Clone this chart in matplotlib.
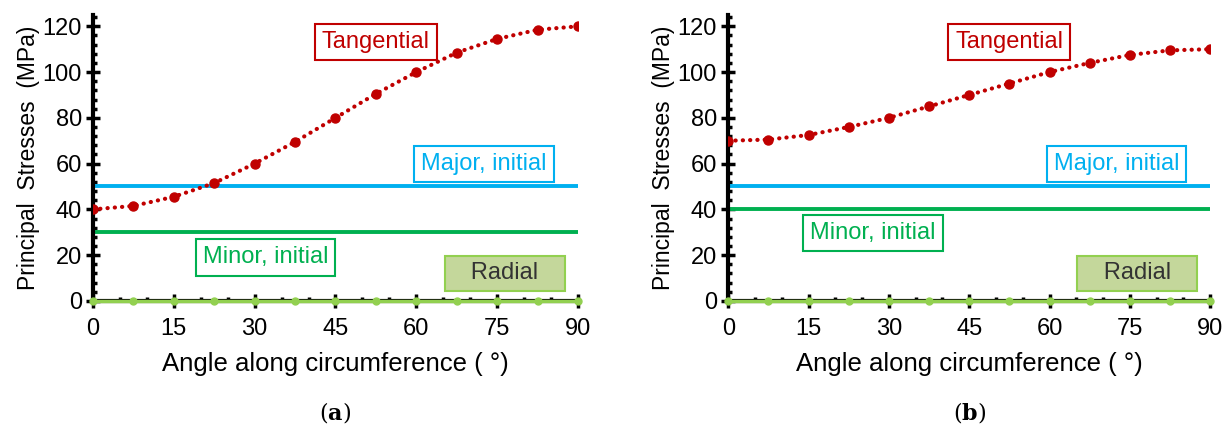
import matplotlib.pyplot as plt
from matplotlib.ticker import MultipleLocator

plt.rcParams["font.family"] = ["Liberation Sans", "DejaVu Sans"]

angles = [0, 7.5, 15, 22.5, 30, 37.5, 45, 52.5, 60, 67.5, 75, 82.5, 90]
tangential_a = [40, 41.5, 45.5, 51.5, 60, 69.5, 80, 90.5, 100, 108.5, 114.5, 118.5, 120]
tangential_b = [70, 70.5, 72.5, 76, 80, 85, 90, 95, 100, 104, 107.5, 109.5, 110]
radial = [0] * len(angles)
major_initial = {"a": 50, "b": 50}
minor_initial = {"a": 30, "b": 40}

RED = "#C00000"
BLUE = "#00B0F0"
GREEN = "#00B050"
LIGHT_GREEN = "#92D050"
RADIAL_FILL = "#C4D79B"


def draw_panel(ax, tangential, major, minor, minor_pos, label):
    ax.axhline(major, color=BLUE, lw=2.8, zorder=2)
    ax.axhline(minor, color=GREEN, lw=2.8, zorder=2)
    ax.plot(angles, tangential, color=RED, lw=3, linestyle=(0, (0.05, 1.7)),
            dash_capstyle="round", marker="o", ms=6.5, zorder=4)
    ax.plot(angles, radial, color=LIGHT_GREEN, lw=2.5, marker="o", ms=5,
            zorder=5, clip_on=False)

    ax.set_xlim(0, 90)
    ax.set_ylim(0, 125)
    ax.xaxis.set_major_locator(MultipleLocator(15))
    ax.xaxis.set_minor_locator(MultipleLocator(5))
    ax.yaxis.set_major_locator(MultipleLocator(20))
    ax.yaxis.set_minor_locator(MultipleLocator(4))
    ax.tick_params(which="major", direction="inout", length=10, width=2.5,
                   labelsize=17, pad=3)
    ax.tick_params(which="minor", direction="in", length=3, width=2.5)
    ax.tick_params(axis="x", which="major", pad=7)

    for side in ("top", "right"):
        ax.spines[side].set_visible(False)
    ax.spines["left"].set_linewidth(3)
    ax.spines["bottom"].set_linewidth(3)

    ax.set_xlabel("Angle along circumference ( °)", fontsize=18.5, labelpad=9)
    ax.set_ylabel("Principal  Stresses  (MPa)", fontsize=16.5, labelpad=2)

    ax.text(52.5, 113, "Tangential", color=RED, fontsize=17, ha="center",
            va="center", bbox=dict(boxstyle="square,pad=0.3", fc="white",
                                   ec=RED, lw=1.5))
    ax.text(72.5, 60, "Major, initial", color=BLUE, fontsize=17, ha="center",
            va="center", bbox=dict(boxstyle="square,pad=0.3", fc="white",
                                   ec=BLUE, lw=1.5))
    ax.text(minor_pos[0], minor_pos[1], "Minor, initial", color=GREEN,
            fontsize=17, ha="center", va="center",
            bbox=dict(boxstyle="square,pad=0.3", fc="white", ec=GREEN, lw=1.5))
    ax.text(76.4, 12.0, "   Radial   ", color="#333333", fontsize=17,
            ha="center", va="center",
            bbox=dict(boxstyle="square,pad=0.28", fc=RADIAL_FILL,
                      ec=LIGHT_GREEN, lw=1.5))

    ax.text(0.5, -0.39, label, transform=ax.transAxes, ha="center",
            va="center", fontsize=16, math_fontfamily="dejavuserif",
            family="DejaVu Serif")


fig = plt.figure(figsize=(12.28, 4.25), dpi=100)
ax_a = fig.add_axes([0.0757, 0.292, 0.395, 0.673])
ax_b = fig.add_axes([0.593, 0.292, 0.3925, 0.673])

draw_panel(ax_a, tangential_a, major_initial["a"], minor_initial["a"],
           (32, 19), r"($\mathbf{a}$)")
draw_panel(ax_b, tangential_b, major_initial["b"], minor_initial["b"],
           (27, 29.8), r"($\mathbf{b}$)")

fig.savefig("out.png", dpi=100)
